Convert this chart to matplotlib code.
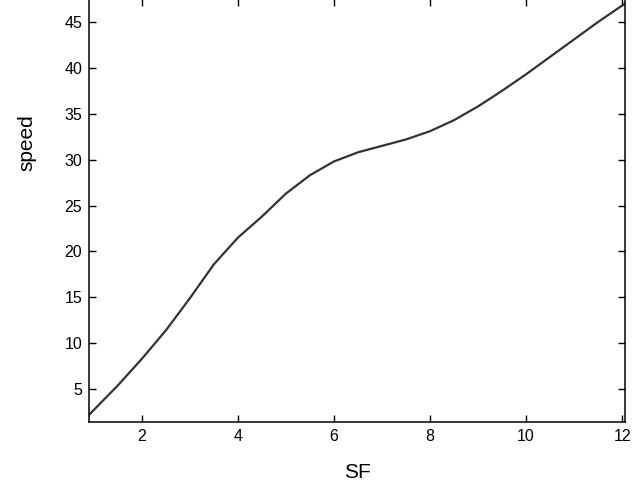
import matplotlib
matplotlib.use("Agg")
import matplotlib.pyplot as plt

# values
sf = [0.9, 1.5, 2, 2.5, 3, 3.5, 4, 4.5, 5, 5.5, 6, 6.5, 7, 7.5, 8,
      8.5, 9, 9.5, 10, 10.5, 11, 11.5, 12.06]
speed = [2.2, 5.4, 8.3, 11.4, 14.9, 18.6, 21.5, 23.8, 26.3, 28.3, 29.8, 30.8,
         31.5, 32.2, 33.1, 34.3, 35.8, 37.5, 39.3, 41.2, 43.1, 45.0, 47.0]
xticks = [2, 4, 6, 8, 10, 12]
yticks = [5, 10, 15, 20, 25, 30, 35, 40, 45]

plt.rcParams['font.family'] = ['Liberation Sans', 'DejaVu Sans']

fig = plt.figure(figsize=(6.32, 4.84), dpi=100)
ax = fig.add_axes([89 / 632, 62 / 484, 536 / 632, 423 / 484])

ax.plot(sf, speed, '-', color='#333333', lw=1.6)

ax.set_xlim(0.9, 12.06)
ax.set_ylim(1.42, 47.5)
ax.set_xticks(xticks)
ax.set_yticks(yticks)
ax.tick_params(direction='in', length=5, width=1, top=True, right=True,
               labelsize=11.5, pad=5)
for s in ax.spines.values():
    s.set_linewidth(1.1)

ax.set_xlabel('SF', fontsize=15, labelpad=14)
ax.set_ylabel('speed', fontsize=15)
ax.yaxis.set_label_coords(-0.098, 0.66)

fig.savefig('out.png', dpi=100)
